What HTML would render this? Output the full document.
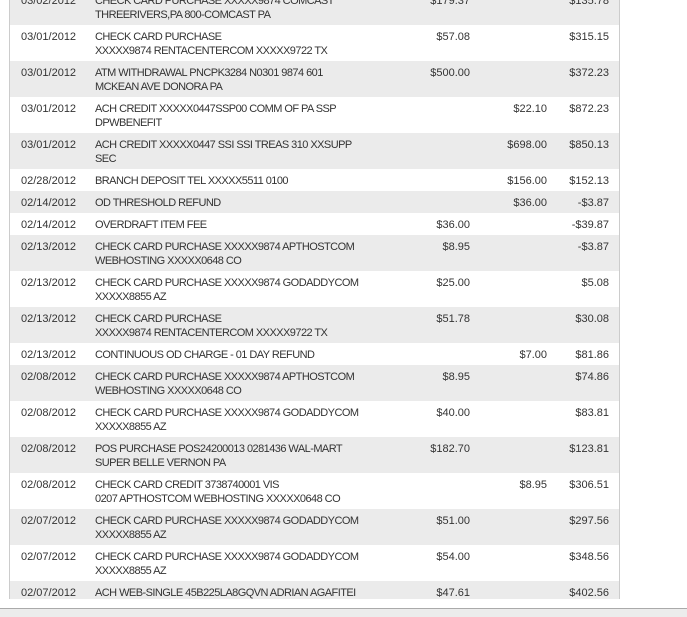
<!DOCTYPE html>
<html><head><style>
body{margin:0;width:687px;height:616px;background:#fff;position:relative;overflow:hidden;font-family:"Liberation Sans",Arial,sans-serif;font-size:11px;color:#333}
.t{position:absolute;left:9px;top:0;width:609px;height:599px;border-left:1px solid #ccc;border-right:1px solid #ccc;overflow:hidden}
.r{position:absolute;left:0;width:609px}
.g{background:#ebebeb}
.r div{position:absolute;top:5px;line-height:14px;white-space:nowrap}
.d{left:11px}.s{left:85px;letter-spacing:-0.55px}
.a{right:149px;text-align:right}.c{right:72px;text-align:right}.b{right:10px;text-align:right}
.bot{position:absolute;left:0;top:608px;width:687px;height:8px;background:#ececec;border-top:1px solid #aaa}
</style></head><body>
<div class="t">
<div class="r g" style="top:-11px;height:36px"><div class="d">03/02/2012</div><div class="s">CHECK CARD PURCHASE XXXXX9874 COMCAST<br>THREERIVERS,PA 800-COMCAST PA</div><div class="a">$179.37</div><div class="b">$135.78</div></div>
<div class="r" style="top:25px;height:36px"><div class="d">03/01/2012</div><div class="s">CHECK CARD PURCHASE<br>XXXXX9874 RENTACENTERCOM XXXXX9722 TX</div><div class="a">$57.08</div><div class="b">$315.15</div></div>
<div class="r g" style="top:61px;height:36px"><div class="d">03/01/2012</div><div class="s">ATM WITHDRAWAL PNCPK3284 N0301 9874 601<br>MCKEAN AVE DONORA PA</div><div class="a">$500.00</div><div class="b">$372.23</div></div>
<div class="r" style="top:97px;height:36px"><div class="d">03/01/2012</div><div class="s">ACH CREDIT XXXXX0447SSP00 COMM OF PA SSP<br>DPWBENEFIT</div><div class="c">$22.10</div><div class="b">$872.23</div></div>
<div class="r g" style="top:133px;height:36px"><div class="d">03/01/2012</div><div class="s">ACH CREDIT XXXXX0447 SSI SSI TREAS 310 XXSUPP<br>SEC</div><div class="c">$698.00</div><div class="b">$850.13</div></div>
<div class="r" style="top:169px;height:22px"><div class="d">02/28/2012</div><div class="s">BRANCH DEPOSIT TEL XXXXX5511 0100</div><div class="c">$156.00</div><div class="b">$152.13</div></div>
<div class="r g" style="top:191px;height:22px"><div class="d">02/14/2012</div><div class="s">OD THRESHOLD REFUND</div><div class="c">$36.00</div><div class="b">-$3.87</div></div>
<div class="r" style="top:213px;height:22px"><div class="d">02/14/2012</div><div class="s">OVERDRAFT ITEM FEE</div><div class="a">$36.00</div><div class="b">-$39.87</div></div>
<div class="r g" style="top:235px;height:36px"><div class="d">02/13/2012</div><div class="s">CHECK CARD PURCHASE XXXXX9874 APTHOSTCOM<br>WEBHOSTING XXXXX0648 CO</div><div class="a">$8.95</div><div class="b">-$3.87</div></div>
<div class="r" style="top:271px;height:36px"><div class="d">02/13/2012</div><div class="s">CHECK CARD PURCHASE XXXXX9874 GODADDYCOM<br>XXXXX8855 AZ</div><div class="a">$25.00</div><div class="b">$5.08</div></div>
<div class="r g" style="top:307px;height:36px"><div class="d">02/13/2012</div><div class="s">CHECK CARD PURCHASE<br>XXXXX9874 RENTACENTERCOM XXXXX9722 TX</div><div class="a">$51.78</div><div class="b">$30.08</div></div>
<div class="r" style="top:343px;height:22px"><div class="d">02/13/2012</div><div class="s">CONTINUOUS OD CHARGE - 01 DAY REFUND</div><div class="c">$7.00</div><div class="b">$81.86</div></div>
<div class="r g" style="top:365px;height:36px"><div class="d">02/08/2012</div><div class="s">CHECK CARD PURCHASE XXXXX9874 APTHOSTCOM<br>WEBHOSTING XXXXX0648 CO</div><div class="a">$8.95</div><div class="b">$74.86</div></div>
<div class="r" style="top:401px;height:36px"><div class="d">02/08/2012</div><div class="s">CHECK CARD PURCHASE XXXXX9874 GODADDYCOM<br>XXXXX8855 AZ</div><div class="a">$40.00</div><div class="b">$83.81</div></div>
<div class="r g" style="top:437px;height:36px"><div class="d">02/08/2012</div><div class="s">POS PURCHASE POS24200013 0281436 WAL-MART<br>SUPER BELLE VERNON PA</div><div class="a">$182.70</div><div class="b">$123.81</div></div>
<div class="r" style="top:473px;height:36px"><div class="d">02/08/2012</div><div class="s">CHECK CARD CREDIT 3738740001 VIS<br>0207 APTHOSTCOM WEBHOSTING XXXXX0648 CO</div><div class="c">$8.95</div><div class="b">$306.51</div></div>
<div class="r g" style="top:509px;height:36px"><div class="d">02/07/2012</div><div class="s">CHECK CARD PURCHASE XXXXX9874 GODADDYCOM<br>XXXXX8855 AZ</div><div class="a">$51.00</div><div class="b">$297.56</div></div>
<div class="r" style="top:545px;height:36px"><div class="d">02/07/2012</div><div class="s">CHECK CARD PURCHASE XXXXX9874 GODADDYCOM<br>XXXXX8855 AZ</div><div class="a">$54.00</div><div class="b">$348.56</div></div>
<div class="r g" style="top:581px;height:36px"><div class="d">02/07/2012</div><div class="s">ACH WEB-SINGLE 45B225LA8GQVN ADRIAN AGAFITEI</div><div class="a">$47.61</div><div class="b">$402.56</div></div>
</div>
<div class="bot"></div>
</body></html>
